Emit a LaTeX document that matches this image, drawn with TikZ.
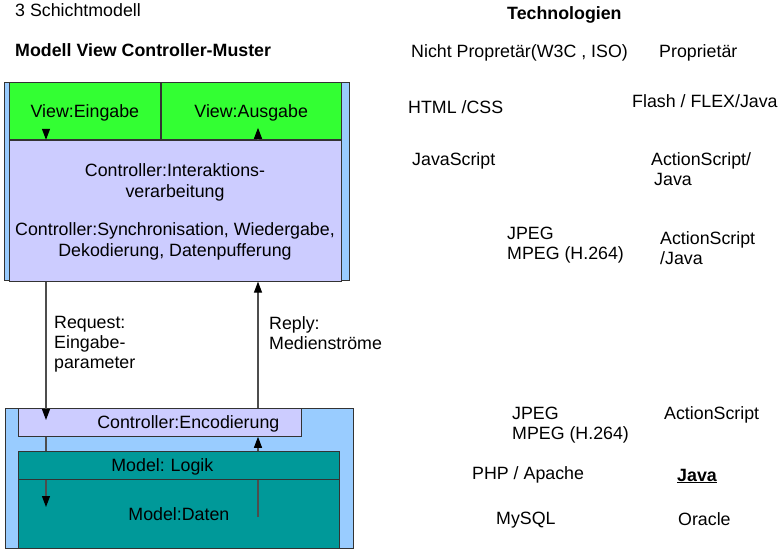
\documentclass[tikz,border=0pt]{standalone}
\usepackage{fontspec}
\setmainfont{Liberation Sans}
\usetikzlibrary{arrows.meta,calc,positioning}
\definecolor{Sky}{HTML}{99CCFF}
\definecolor{Lime}{HTML}{33FF33}
\definecolor{Lilac}{HTML}{CCCCFF}
\definecolor{Teal}{HTML}{009999}
\definecolor{Edge}{HTML}{333333}
\definecolor{Wire}{HTML}{4D4D4D}
\newcommand{\diagfont}{\fontsize{17.8}{20}\selectfont\frenchspacing}

\begin{document}
\begin{tikzpicture}[x=1pt,y=-1pt,
      layer/.style={draw=Edge,line width=0.8pt,inner sep=0pt,anchor=north west,
        font=\diagfont,align=center,text height=13pt,text depth=0pt},
      lbl/.style={inner sep=0pt,anchor=base west,font=\diagfont,align=left},
      arr/.style={-{Triangle[length=11pt,width=8pt,black]},line width=1.1pt,draw=Wire}]
      \useasboundingbox (0,0) rectangle (781,553);
      \coordinate (lx) at (46,0);
      \coordinate (rx) at (258,0);
      % Client
      \node[layer,fill=Sky,minimum width=345,minimum height=198] (client) at (4,82) {};
      \node[layer,fill=Lime,minimum width=151,minimum height=57] (ein) at (9,82) {View:Eingabe};
      \node[layer,fill=Lime,minimum width=180,minimum height=57] (aus) at (ein.north east) {View:Ausgabe};
      \node[layer,fill=Lilac,minimum width=332,minimum height=141] (ctrl) at (ein.south west) {};
      \node[inner sep=0pt,anchor=base,align=center,font=\fontsize{17.8}{21}\selectfont\frenchspacing]
        (ctrltxt) at (175,257) {Controller:Interaktions-\\verarbeitung\\[17pt]Controller:Synchronisation, Wiedergabe,\\Dekodierung, Datenpufferung};
      \draw[arr] ($(ein.south -| lx)+(0,-11)$) -- (ein.south -| lx);
      \draw[arr] (aus.south -| rx) -- ($(aus.south -| rx)+(0,-12)$);
      % Server
      \node[layer,fill=Sky,minimum width=348,minimum height=140] (server) at (5,408) {};
      \node[layer,fill=Lilac,minimum width=283,minimum height=28,inner xsep=22pt,
        text width=239pt,align=right] (enc) at (18,408) {Controller:Encodierung};
      \node[layer,fill=Teal,minimum width=321,minimum height=69] (daten) at (18,479) {Model:Daten};
      \draw[arr] (ctrl.south -| lx) -- ($(enc.north -| lx)+(0,12)$);
      \draw[arr] (enc.north -| rx) -- (ctrl.south -| rx);
      \draw[arr] (enc.south -| lx) -- ($(daten.north -| lx)+(0,28)$);
      \draw[arr] ($(daten.north -| rx)+(0,38)$) -- (enc.south -| rx);
      \node[layer,fill=Teal,minimum width=321,minimum height=28,inner xsep=93pt,
        text width=135pt,align=left] (logik) at (18,451) {Model: Logik};
      \node[lbl] (req) at (54,368) {Request:\\Eingabe-\\parameter};
      \node[lbl] (rep) at (269,349) {Reply:\\Medienströme};
      % Titel
      \node[lbl] (schicht) at (15,17) {3 Schichtmodell};
      \node[lbl,font=\diagfont\bfseries] (mvc) at (15,57) {Modell View Controller-Muster};
      % Technologien
      \node[lbl,font=\diagfont\bfseries] (tech) at (507,20) {Technologien};
      \node[lbl] (offen) at (411,58) {Nicht Propretär(W3C , ISO)};
      \node[lbl] (prop) at (659,58) {Proprietär};
      \node[lbl] (html) at (408,114) {HTML /CSS};
      \node[lbl] (flash) at (632,108) {Flash / FLEX/Java};
      \node[lbl] (js) at (412,166) {JavaScript};
      \node[lbl] (as1) at (651,186) {ActionScript/\\\hspace*{3pt}Java};
      \node[lbl] (jpeg1) at (507,259) {JPEG\\MPEG (H.264)};
      \node[lbl] (as2) at (660,264) {ActionScript\\/Java};
      \node[lbl] (jpeg2) at (512,439) {JPEG\\MPEG (H.264)};
      \node[lbl] (as3) at (664,419) {ActionScript};
      \node[lbl] (php) at (472,479) {PHP / Apache};
      \node[lbl] (java) at (677,481) {\underline{\textbf{Java}}};
      \node[lbl] (mysql) at (496,524) {MySQL};
      \node[lbl] (oracle) at (678,525) {Oracle};
    \end{tikzpicture}
\end{document}
